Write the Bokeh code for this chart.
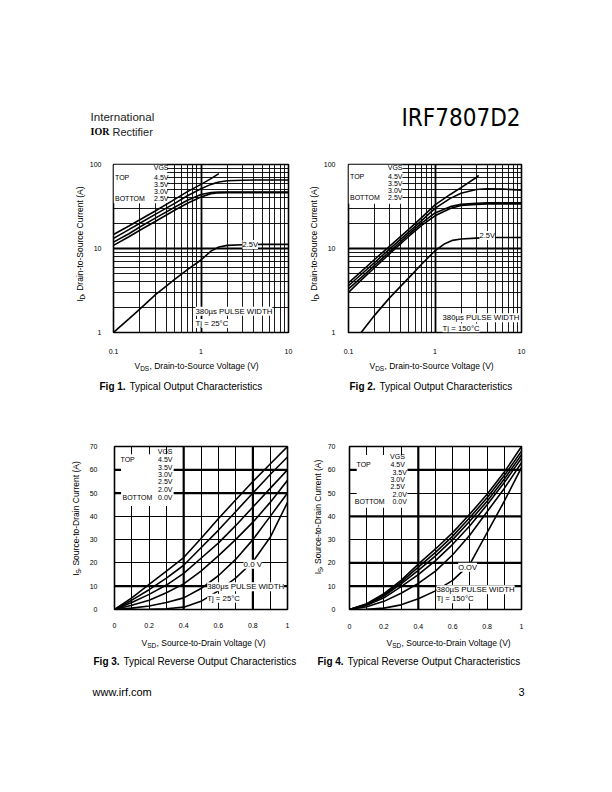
import math
from bokeh.plotting import figure
from bokeh.models import Range1d, FixedTicker, CustomJSTickFormatter, Label, BoxAnnotation, Span
from bokeh.layouts import column, row
from bokeh.embed import file_html
from bokeh.resources import INLINE

SANS = "Liberation Sans"
NARROW = "Liberation Sans Narrow, DejaVu Sans Condensed, Liberation Sans"
SERIF = "Liberation Serif"

# ---------------- ticks ----------------
LOG_TICKS_X = [0.1, 1, 10]
LOG_MINOR_X = [0.2, 0.3, 0.4, 0.5, 0.6, 0.7, 0.8, 0.9, 2, 3, 4, 5, 6, 7, 8, 9]
LOG_TICKS_Y = [1, 10, 100]
LOG_MINOR_Y = [2, 3, 4, 5, 6, 7, 8, 9, 20, 30, 40, 50, 60, 70, 80, 90]
LIN_TICKS_X = [0, 0.2, 0.4, 0.6, 0.8, 1]
LIN_MINOR_X = [0.1, 0.3, 0.5, 0.7, 0.9]
LIN_TICKS_Y = [0, 10, 20, 30, 40, 50, 60, 70]

VGS_FWD = ["4.5V", "3.5V", "3.0V", "2.5V"]
VGS_REV = ["4.5V", "3.5V", "3.0V", "2.5V", "2.0V", "0.0V"]

# ---------------- Fig 1 (Tj = 25C) ----------------
F1_VDS_45 = [0.1, 0.15, 0.2, 0.3, 0.5, 0.7, 1.0, 1.3, 1.6]
F1_ID_45 = [14.7, 18.5, 22, 28, 38.5, 47.5, 58, 68, 78]
F1_VDS = [0.1, 0.15, 0.2, 0.3, 0.5, 0.7, 1.0, 1.3, 1.6, 2.0, 3.0, 5.0, 10.0]
F1_ID_35 = [13.2, 16.8, 20, 25.5, 34.5, 42.5, 51.5, 58, 62, 64, 65, 65.5, 65.5]
F1_ID_30 = [11.9, 15, 18, 23, 31, 37.5, 44, 46.5, 47, 47, 47, 47, 47]
F1_ID_25 = [10.9, 13.8, 16.5, 21, 28.5, 34.5, 41, 45, 46, 46.3, 46.3, 46.3, 46.3]
F1_ID_25_LOW = [1.0, 1.45, 1.9, 2.8, 4.3, 5.6, 7.3, 9.3, 10.4, 10.9, 11.1, 11.2, 11.2]

# ---------------- Fig 2 (Tj = 150C) ----------------
F2_VDS_45 = [0.1, 0.14, 0.2, 0.3, 0.5, 0.7, 1.0, 1.5, 2.0, 3.0, 3.2]
F2_ID_45 = [3.9, 5.3, 7.4, 10.7, 17, 23.3, 33, 44, 53, 70, 74]
F2_VDS = [0.1, 0.14, 0.2, 0.3, 0.5, 0.7, 1.0, 1.5, 2.0, 3.0, 4.0, 6.0, 10.0]
F2_ID_35 = [3.6, 4.9, 6.8, 9.9, 15.8, 21.5, 30, 39.5, 45.5, 50.5, 51.5, 51, 49.5]
F2_ID_30 = [3.3, 4.5, 6.3, 9.2, 14.8, 20, 26.5, 31.5, 33.5, 34.5, 35, 35, 35]
F2_ID_25 = [3.0, 4.2, 5.9, 8.7, 14, 18.8, 24.5, 30, 32.5, 33.5, 34, 34, 34]
F2_VDS_LOW = [0.14, 0.2, 0.3, 0.5, 0.7, 1.0, 1.3, 1.6, 2.0, 3.0, 5.0, 10.0]
F2_ID_25_LOW = [1.0, 1.6, 2.6, 4.5, 6.5, 9.4, 11.4, 12.5, 13.0, 13.3, 13.5, 13.5]

# ---------------- Fig 3 (reverse, Tj = 25C) ----------------
VSD = [0, 0.1, 0.2, 0.3, 0.4, 0.5, 0.6, 0.7, 0.8, 0.9, 1.0]
F3_IS = {
    "4.5V": [0, 5, 10.8, 16.5, 22.3, 30.5, 39, 47, 55, 62.5, 70],
    "3.5V": [0, 4, 8.5, 13.5, 19, 26.5, 34, 42, 50, 58, 65.5],
    "3.0V": [0, 3, 6.5, 10.5, 15.5, 22, 28.5, 36, 44, 52, 60],
    "2.5V": [0, 1.8, 4, 7.2, 11, 16.5, 23, 30, 37.5, 46, 55.5],
    "2.0V": [0, 0.6, 1.5, 3, 5, 9, 14.5, 21.5, 30, 40, 50],
    "0.0V": [0, 0, 0.1, 0.3, 1, 3.5, 8, 13.5, 20.5, 31, 46],
}
# ---------------- Fig 4 (reverse, Tj = 150C) ----------------
F4_IS = {
    "4.5V": [0, 2.5, 6.8, 12.5, 19.5, 26, 33, 41, 49.5, 59, 70],
    "3.5V": [0, 2.3, 6.3, 11.8, 18.2, 24.5, 31.5, 39.5, 48, 57.5, 68],
    "3.0V": [0, 2.1, 5.8, 11, 16.8, 23, 30, 38, 46.5, 56, 66.5],
    "2.5V": [0, 1.8, 5, 9.8, 15, 21, 28, 36, 45, 54.5, 65],
    "2.0V": [0, 1.2, 3.5, 7, 11.2, 16.5, 23.5, 32, 42, 52, 63],
    "0.0V": [0, 0.1, 0.6, 2, 4.6, 8, 12.5, 19.5, 33, 46.5, 61],
}

# ---------------- geometry (page pixels) ----------------
G1 = dict(w=212, h=206, pl=86, pt=150, fl=108, ft=164, fw=180, fh=169)
G2 = dict(w=292, h=206, pl=320, pt=150, fl=342, ft=164, fw=179, fh=169)
G3 = dict(w=214, h=212, pl=86, pt=420, fl=109, ft=444, fw=178, fh=168)
G4 = dict(w=288, h=212, pl=324, pt=420, fl=348, ft=446, fw=173, fh=163)


def make_chart(g, log, xr, yr, xt, xm, yt, ym, xs, ys):
    g["fb"] = g["ft"] + g["fh"]
    bl = g["fl"] - g["pl"]
    bt = g["ft"] - g["pt"]
    kind = "log" if log else "linear"
    p = figure(width=g["w"], height=g["h"], x_axis_type=kind, y_axis_type=kind,
               x_range=Range1d(*xr), y_range=Range1d(*yr),
               output_backend="svg", toolbar_location=None,
               min_border_left=bl, min_border_top=bt,
               min_border_right=g["w"] - bl - g["fw"],
               min_border_bottom=g["h"] - bt - g["fh"])
    p.xaxis.ticker = FixedTicker(ticks=xt, minor_ticks=xm)
    p.yaxis.ticker = FixedTicker(ticks=yt, minor_ticks=ym)
    if log:
        p.xaxis.formatter = CustomJSTickFormatter(code="return String(tick);")
        p.yaxis.formatter = CustomJSTickFormatter(code="return String(tick);")
    for ax in (p.xaxis, p.yaxis):
        ax.axis_line_color = None
        ax.major_tick_line_color = None
        ax.minor_tick_line_color = None
        ax.major_label_text_font = SANS
        ax.major_label_text_font_size = "7px"
        ax.major_label_text_color = "black"
    p.xaxis.major_label_standoff = xs
    p.yaxis.major_label_standoff = ys
    for gr in (p.xgrid, p.ygrid):
        gr.grid_line_color = "black"
        gr.grid_line_alpha = 1.0
        gr.grid_line_width = 1.8 if log else 1.0
        gr.minor_grid_line_color = "black"
        gr.minor_grid_line_width = 0.9 if log else 1.0
    p.outline_line_color = "black"
    p.outline_line_width = 1.6
    p.background_fill_color = "white"
    p.border_fill_color = "white"
    return p


def lab(p, g, px, py, text, size=7.0, align="left", baseline="middle", font=SANS,
        style="normal", bg=None):
    L = Label(x=px - g["fl"], y=g["fb"] - py, x_units="screen", y_units="screen",
              text=text, text_font=font, text_font_size=f"{size}px", text_align=align,
              text_baseline=baseline, text_font_style=style, text_color="black")
    if bg:
        L.background_fill_color = bg
        L.background_fill_alpha = 1.0
    p.add_layout(L)


def legend_fwd(p, g, rx, tx, ys):
    lab(p, g, rx, ys[0], "VGS", align="right")
    lab(p, g, tx, ys[1], "TOP")
    for i, v in enumerate(VGS_FWD):
        lab(p, g, rx, ys[i + 1], v, align="right")
    lab(p, g, tx, ys[-1], "BOTTOM")


def legend_rev(p, g, rxs, tx, bx, ys):
    lab(p, g, rxs[0], ys[0], "VGS", align="right")
    lab(p, g, tx, ys[1], "TOP")
    for i, v in enumerate(VGS_REV):
        lab(p, g, rxs[i + 1], ys[i + 1], v, align="right")
    lab(p, g, bx, ys[-1], "BOTTOM")


def white_box(p, l, r, b, t):
    p.add_layout(BoxAnnotation(left=l, right=r, bottom=b, top=t, fill_color="white",
                               fill_alpha=1.0, line_color=None, level="underlay"))


def thick(p, xs, ys):
    for v in xs:
        p.add_layout(Span(location=v, dimension="height", line_color="black",
                          line_width=2.2, level="underlay"))
    for v in ys:
        p.add_layout(Span(location=v, dimension="width", line_color="black",
                          line_width=2.2, level="underlay"))


LW = 1.6
PW = 7.8

# ---------------- Fig 1 ----------------
p1 = make_chart(G1, True, (0.1, 10), (1, 100), LOG_TICKS_X, LOG_MINOR_X,
                LOG_TICKS_Y, LOG_MINOR_Y, 10, 6)
white_box(p1, 0.1, 0.41, 34.5, 100)
p1.line(F1_VDS_45, F1_ID_45, line_color="black", line_width=LW)
for ys_ in (F1_ID_35, F1_ID_30, F1_ID_25, F1_ID_25_LOW):
    p1.line(F1_VDS, ys_, line_color="black", line_width=LW)
legend_fwd(p1, G1, 163, 109.5, [168.3, 178, 185, 191.7, 199.3])
lab(p1, G1, 237, 245, "2.5V", 7.5, bg="white")
lab(p1, G1, 190, 311.7, "380\u00b5s PULSE WIDTH", PW, bg="white")
lab(p1, G1, 190, 324, "Tj = 25\u00b0C", PW, bg="white")

# ---------------- Fig 2 ----------------
p2 = make_chart(G2, True, (0.1, 10), (1, 100), LOG_TICKS_X, LOG_MINOR_X,
                LOG_TICKS_Y, LOG_MINOR_Y, 10, 7)
white_box(p2, 0.1, 0.42, 34, 100)
p2.line(F2_VDS_45, F2_ID_45, line_color="black", line_width=LW)
for ys_ in (F2_ID_35, F2_ID_30, F2_ID_25):
    p2.line(F2_VDS, ys_, line_color="black", line_width=LW)
p2.line(F2_VDS_LOW, F2_ID_25_LOW, line_color="black", line_width=LW)
legend_fwd(p2, G2, 396, 343.5, [168.3, 176.7, 184, 191, 198.3])
lab(p2, G2, 473, 236, "2.5V", 7.5, bg="white")
lab(p2, G2, 436, 318.3, "380\u00b5s PULSE WIDTH", PW, bg="white")
lab(p2, G2, 436, 328.5, "Tj = 150\u00b0C", PW, bg="white")

# ---------------- Fig 3 ----------------
p3 = make_chart(G3, False, (0, 1), (0, 70), LIN_TICKS_X, LIN_MINOR_X,
                LIN_TICKS_Y, [], 7, 11)
thick(p3, [0.4, 0.8], [10, 50, 60])
white_box(p3, 0.038, 0.342, 44.5, 66.7)
for v in VGS_REV:
    p3.line(VSD, F3_IS[v], line_color="black", line_width=LW)
legend_rev(p3, G3, [167] * 7, 115, 117, [453.5, 462, 470, 476.5, 484, 492, 500])
lab(p3, G3, 238, 566.7, "0.0 V", 8, bg="white")
lab(p3, G3, 201.7, 589.3, "380\u00b5s PULSE WIDTH", PW, bg="white")
lab(p3, G3, 201.7, 600.7, "Tj = 25\u00b0C", PW, bg="white")

# ---------------- Fig 4 ----------------
p4 = make_chart(G4, False, (0, 1), (0, 70), LIN_TICKS_X, LIN_MINOR_X,
                LIN_TICKS_Y, [], 8, 8)
thick(p4, [0.4], [10, 20, 40, 60])
white_box(p4, 0.042, 0.337, 43.7, 66.4)
for v in VGS_REV:
    p4.line(VSD, F4_IS[v], line_color="black", line_width=LW)
legend_rev(p4, G4, [403.3, 403.3, 405.3, 403.3, 403.3, 405.3, 405.3], 355, 353.3,
           [456, 464, 471.7, 479, 485.7, 494, 501.3])
lab(p4, G4, 456.7, 566.7, "O.OV", 7.5, bg="white")
lab(p4, G4, 435, 589.3, "380\u00b5S PULSE WIDTH", PW, bg="white")
lab(p4, G4, 435, 598.3, "Tj = 150\u00b0C", PW, bg="white")


# ---------------- text strips (data coords == page pixels) ----------------
def strip(left, right, top, bottom):
    s = figure(width=right - left, height=bottom - top, x_range=Range1d(left, right),
               y_range=Range1d(bottom, top), output_backend="svg", toolbar_location=None,
               min_border=0, x_axis_location=None, y_axis_location=None,
               outline_line_color=None)
    s.grid.visible = False
    s.background_fill_color = "white"
    s.border_fill_color = "white"
    return s


def stxt(s, x, y, text, size, font=SANS, style="normal", align="left", color="black",
         baseline="middle", angle=0.0):
    s.add_layout(Label(x=x, y=y, text=text, text_font=font, text_font_size=f"{size}px",
                       text_font_style=style, text_align=align, text_baseline=baseline,
                       text_color=color, angle=angle))


ADV = {"V": 0.667, "I": 0.278, "D": 0.722, "S": 0.667}


def xlabel(s, px, pyb, main, sub, rest, size=8.5, ssize=6.5):
    wm = ADV[main] * size
    ws = sum(ADV[c] for c in sub) * ssize
    stxt(s, px, pyb, main, size, baseline="alphabetic")
    stxt(s, px + wm, pyb + 2.5, sub, ssize, baseline="alphabetic")
    stxt(s, px + wm + ws + 0.3, pyb, rest, size, baseline="alphabetic")


def ylabel(s, pxb, pys, main, sub, rest, size=8.5, ssize=6.5):
    wm = ADV[main] * size
    ws = sum(ADV[c] for c in sub) * ssize
    a = math.pi / 2
    stxt(s, pxb, pys, main, size, baseline="alphabetic", angle=a)
    stxt(s, pxb + 2.5, pys - wm, sub, ssize, baseline="alphabetic", angle=a)
    stxt(s, pxb, pys - wm - ws - 0.3, rest, size, baseline="alphabetic", angle=a)


def caption(s, x, y, num, text):
    stxt(s, x, y, num, 10, style="bold")
    stxt(s, x + 30, y, text, 10)


hdr = strip(0, 612, 0, 150)
stxt(hdr, 90, 116, "International", 11.6, color="#222222")
stxt(hdr, 90, 131, "IOR", 10, font=SERIF, style="bold")
stxt(hdr, 112, 131, "Rectifier", 11, color="#222222")
stxt(hdr, 520, 117.5, "IRF7807D2", 24, font=NARROW, align="right")

yl1 = strip(0, 86, 150, 356)
ylabel(yl1, 79, 318, "I", "D", ", Drain-to-Source Current (A)")
yl2 = strip(298, 320, 150, 356)
ylabel(yl2, 313, 318, "I", "D", ", Drain-to-Source Current (A)")

mid = strip(0, 612, 356, 420)
xlabel(mid, 134, 365, "V", "DS", ", Drain-to-Source Voltage (V)")
xlabel(mid, 369, 365, "V", "DS", ", Drain-to-Source Voltage (V)")
caption(mid, 99, 386, "Fig 1.", "Typical Output Characteristics")
caption(mid, 349, 386, "Fig 2.", "Typical Output Characteristics")

yl3 = strip(0, 86, 420, 632)
ylabel(yl3, 75, 588, "I", "S", ", Source-to-Drain Current (A)")
yl4 = strip(300, 324, 420, 632)
ylabel(yl4, 317, 586, "I", "S", ", Source-to-Drain Current (A)")

bot = strip(0, 612, 632, 790)
xlabel(bot, 141, 642, "V", "SD", ", Source-to-Drain Voltage (V)")
xlabel(bot, 386, 642, "V", "SD", ", Source-to-Drain Voltage (V)")
caption(bot, 93, 661, "Fig 3.", "Typical Reverse Output Characteristics")
caption(bot, 317, 661, "Fig 4.", "Typical Reverse Output Characteristics")
stxt(bot, 92, 691, "www.irf.com", 11)
stxt(bot, 524, 691, "3", 11, align="right")

layout = column(hdr, row(yl1, p1, yl2, p2), mid, row(yl3, p3, yl4, p4), bot)
open("out.html", "w").write(file_html(layout, INLINE))
